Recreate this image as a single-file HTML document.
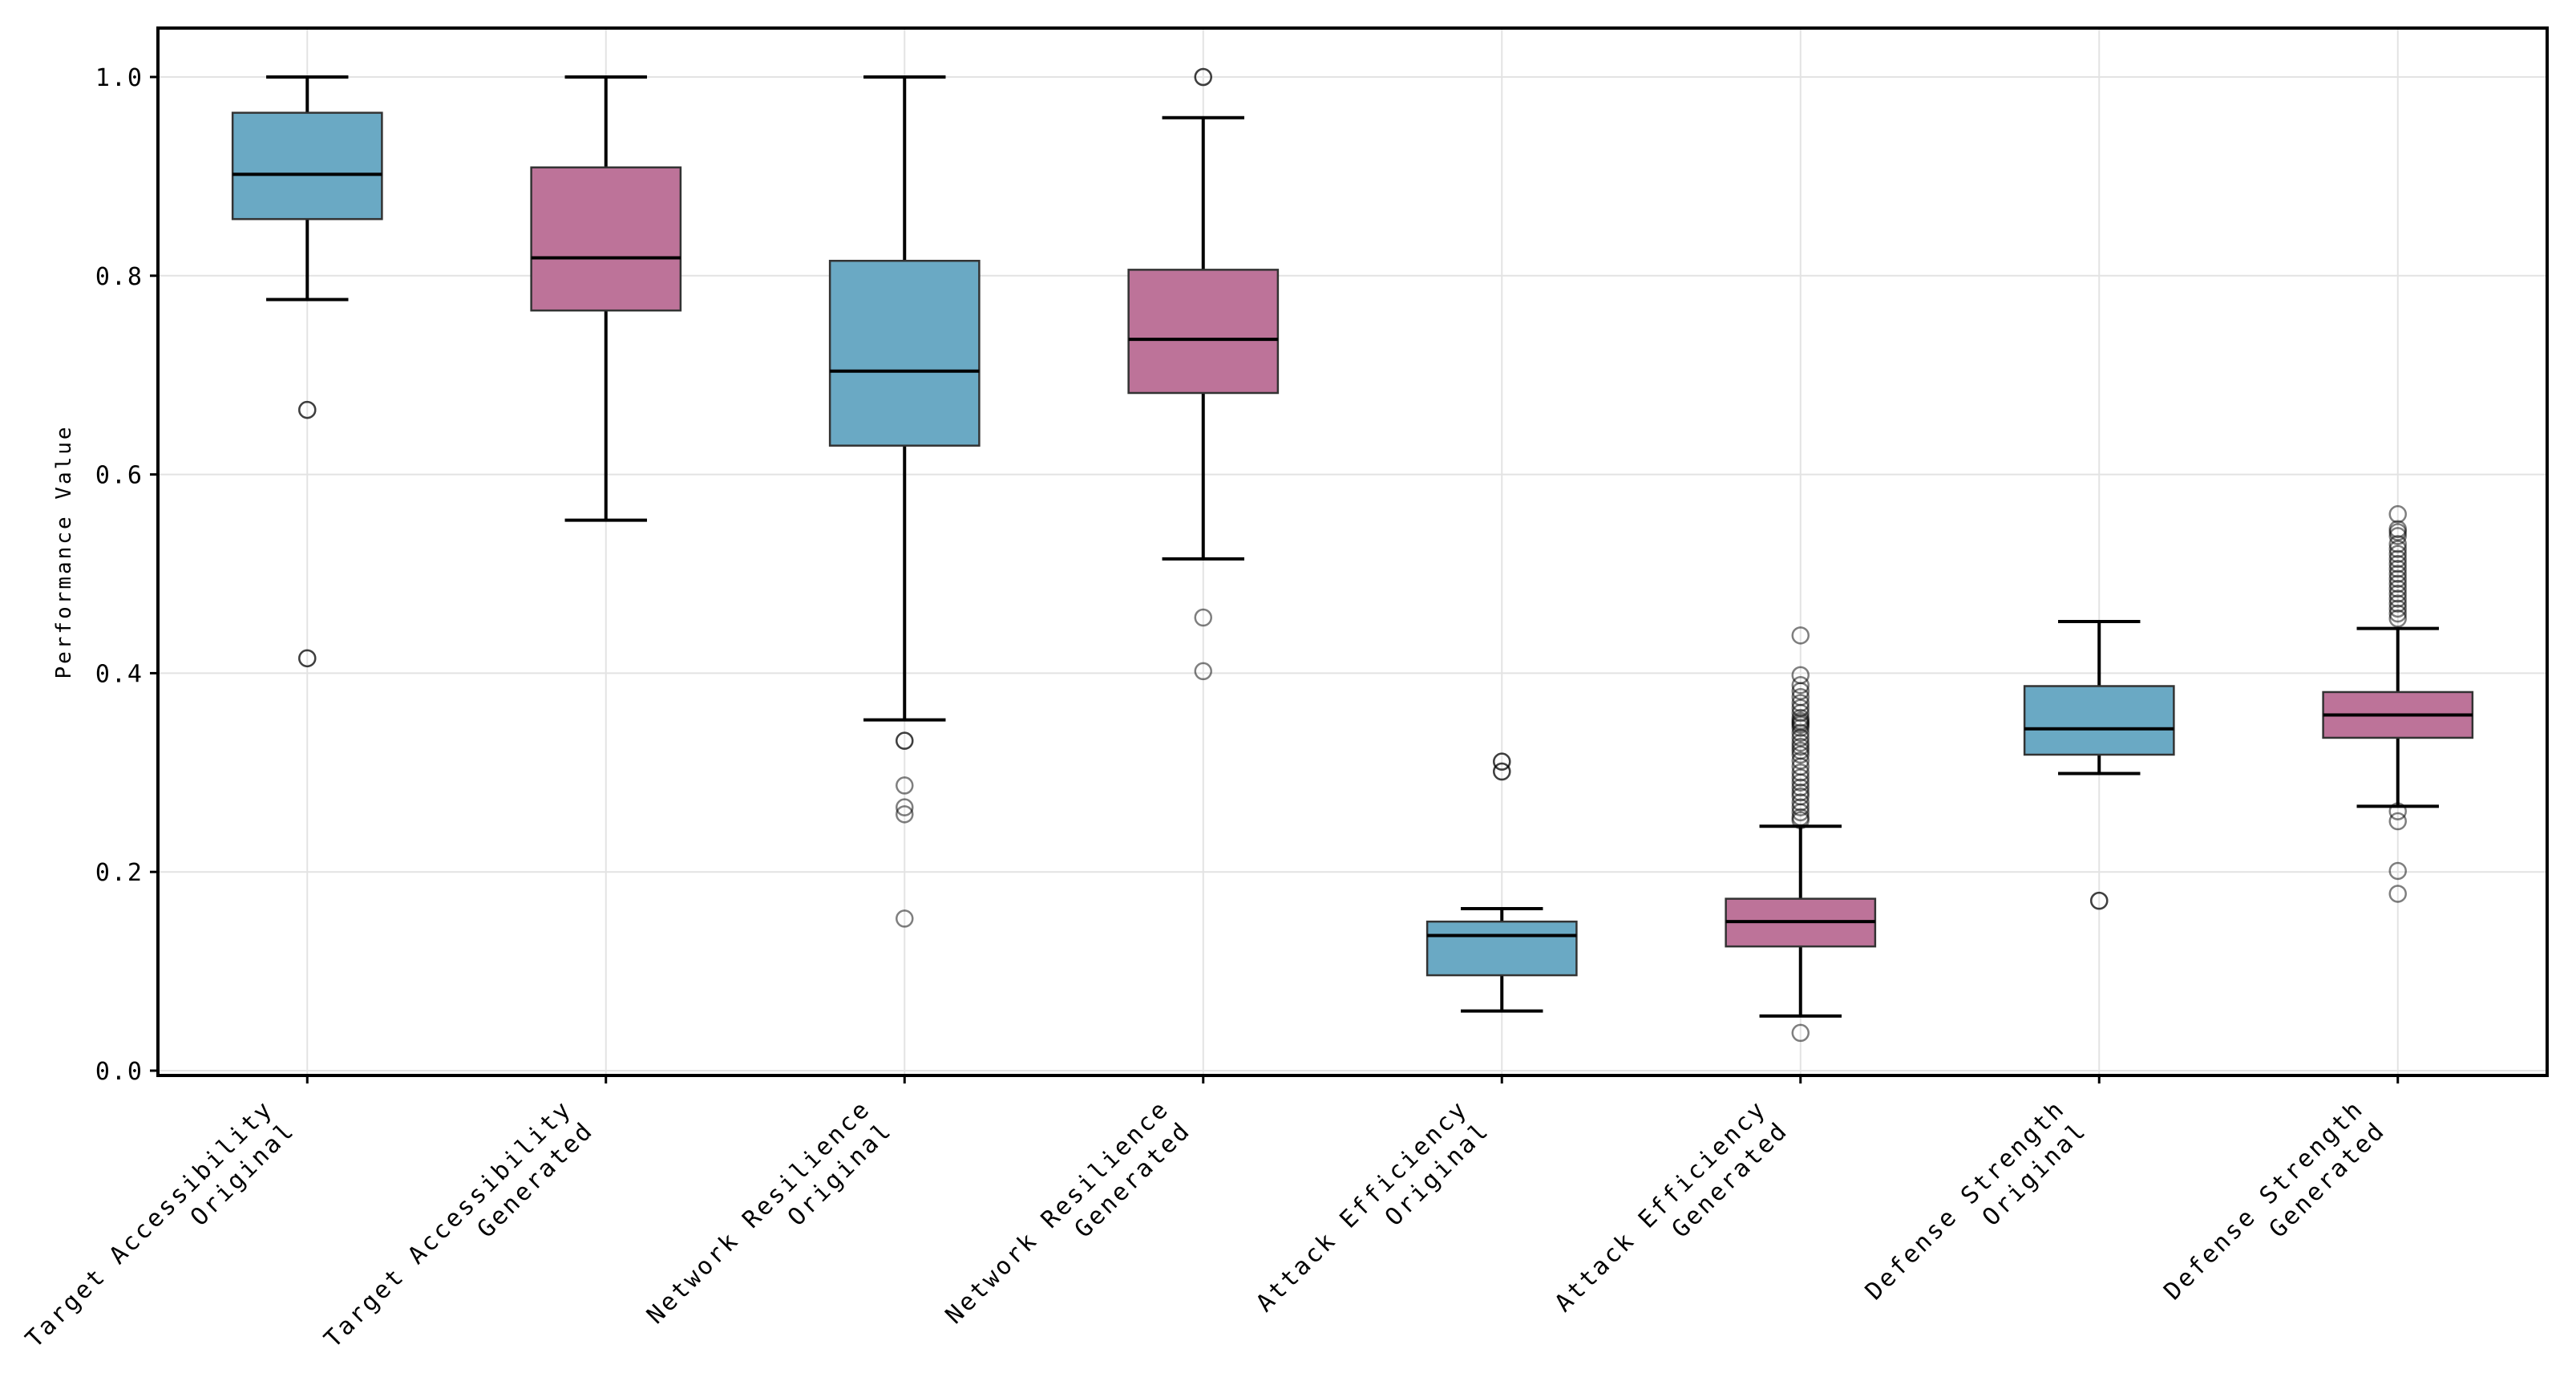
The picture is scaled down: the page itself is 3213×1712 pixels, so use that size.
<!DOCTYPE html>
<html><head><meta charset="utf-8">
<style>
html,body{margin:0;padding:0;background:#fff;}
svg{display:block;font-family:"DejaVu Sans Mono","Liberation Mono","Noto Sans CJK SC",monospace;}
</style></head>
<body>
<svg id="chart" width="3213" height="1712" viewBox="0 0 3213 1712" xmlns="http://www.w3.org/2000/svg">
<rect x="0" y="0" width="3213" height="1712" fill="#fff"/>
<g id="grid"></g>
<g id="boxes"></g>
<g id="axes"></g>
</svg>
<script>
const categories = ["Target Accessibility\nOriginal","Target Accessibility\nGenerated","Network Resilience\nOriginal","Network Resilience\nGenerated","Attack Efficiency\nOriginal","Attack Efficiency\nGenerated","Defense Strength\nOriginal","Defense Strength\nGenerated"];
const whiskerLow = [0.776,0.554,0.353,0.515,0.060,0.055,0.299,0.266];
const q1 = [0.857,0.765,0.629,0.682,0.096,0.125,0.318,0.335];
const medians = [0.902,0.818,0.704,0.736,0.136,0.150,0.344,0.358];
const q3 = [0.964,0.909,0.815,0.806,0.150,0.173,0.387,0.381];
const whiskerHigh = [1.0,1.0,1.0,0.959,0.163,0.246,0.452,0.445];
const fliers0 = [0.665,0.665,0.415,0.415];
const fliers1 = [];
const fliers2 = [0.332,0.332,0.287,0.265,0.258,0.153];
const fliers3 = [1.0,1.0,0.456,0.402];
const fliers4 = [0.311,0.311,0.301,0.301];
const fliers5 = [0.438,0.398,0.388,0.382,0.376,0.370,0.365,0.360,0.355,0.352,0.350,0.348,0.345,0.340,0.335,0.330,0.326,0.322,0.318,0.312,0.306,0.300,0.295,0.290,0.285,0.280,0.276,0.270,0.265,0.260,0.255,0.252,0.038];
const fliers6 = [0.171,0.171];
const fliers7 = [0.560,0.545,0.542,0.538,0.530,0.525,0.520,0.515,0.510,0.505,0.500,0.495,0.490,0.485,0.480,0.475,0.470,0.465,0.460,0.455,0.261,0.251,0.201,0.178];
const fliers = [fliers0,fliers1,fliers2,fliers3,fliers4,fliers5,fliers6,fliers7];
const yTicks = [0.0,0.2,0.4,0.6,0.8,1.0];
const yTickLabels = ["0.0","0.2","0.4","0.6","0.8","1.0"];

const L=197,R=3177,T=35,B=1341;
const y0px=1335, yPerUnit=1239;
function yScale(v){return y0px - v*yPerUnit;}
function xScale(i){return L + (R-L)*((i+1)-0.5)/categories.length;}
const boxHalf = (R-L)/categories.length*0.25;
const NS="http://www.w3.org/2000/svg";
function mk(tag,attrs,parent){const e=document.createElementNS(NS,tag);for(const k in attrs)e.setAttribute(k,attrs[k]);parent.appendChild(e);return e;}
const grid=document.getElementById('grid'),boxes=document.getElementById('boxes'),axes=document.getElementById('axes');

yTicks.forEach((t,i)=>{
  const y=yScale(t);
  const g=mk('line',{x1:L,x2:R,y1:y,y2:y,stroke:'#e3e3e3','stroke-width':2},grid);
  
  
  const tk=mk('line',{x1:L-10,x2:L,y1:y,y2:y,stroke:'#000','stroke-width':3},axes);
  
  
  const tx=mk('text',{x:L-18,y:y+11,'text-anchor':'end','font-size':30,'letter-spacing':2,fill:'#000'},axes);
  tx.textContent=yTickLabels[i];
  
  
});
categories.forEach((c,i)=>{
  const x=xScale(i);
  const g=mk('line',{x1:x,x2:x,y1:T,y2:B,stroke:'#e3e3e3','stroke-width':2},grid);
  
  
});

categories.forEach((c,i)=>{
  const x=xScale(i);
  const color = i%2===0 ? '#6aa9c4' : '#bd7399';
  const grp=mk('g',{},boxes);
  
  
  const w1=mk('line',{x1:x,x2:x,y1:yScale(q3[i]),y2:yScale(whiskerHigh[i]),stroke:'#000','stroke-width':4},grp);
  
  
  const w2=mk('line',{x1:x,x2:x,y1:yScale(q1[i]),y2:yScale(whiskerLow[i]),stroke:'#000','stroke-width':4},grp);
  
  
  const capHalf=boxHalf*0.55;
  const c1=mk('line',{x1:x-capHalf,x2:x+capHalf,y1:yScale(whiskerHigh[i]),y2:yScale(whiskerHigh[i]),stroke:'#000','stroke-width':4},grp);
  
  
  const c2=mk('line',{x1:x-capHalf,x2:x+capHalf,y1:yScale(whiskerLow[i]),y2:yScale(whiskerLow[i]),stroke:'#000','stroke-width':4},grp);
  
  
  const r=mk('rect',{x:x-boxHalf,y:yScale(q3[i]),width:boxHalf*2,height:yScale(q1[i])-yScale(q3[i]),fill:color,stroke:'#333','stroke-width':2.5},grp);
  
  
  const m=mk('line',{x1:x-boxHalf,x2:x+boxHalf,y1:yScale(medians[i]),y2:yScale(medians[i]),stroke:'#000','stroke-width':4},grp);
  
  
  fliers[i].forEach(v=>{
    const f=mk('circle',{cx:x,cy:yScale(v),r:10,fill:'none',stroke:'#000','stroke-opacity':0.5,'stroke-width':2.5},grp);
    
    
  });
  const tk=mk('line',{x1:x,x2:x,y1:B,y2:B+10,stroke:'#000','stroke-width':3},axes);
  
  
  const lines=c.split('\n');
  const t=mk('text',{transform:'translate('+(x-14)+','+1411+') rotate(-45)','text-anchor':'end','font-size':30,'letter-spacing':3,fill:'#000'},axes);
  
  
  const s1=mk('tspan',{x:0,y:-38},t); s1.textContent=lines[0];
  const s2=mk('tspan',{x:0,y:0},t); s2.textContent=lines[1];
});

const frame=mk('rect',{x:L,y:T,width:R-L,height:B-T,fill:'none',stroke:'#000','stroke-width':4},axes);


const yl=mk('text',{transform:'translate(88,688) rotate(-90)','text-anchor':'middle','font-size':26,'letter-spacing':3,fill:'#000'},axes);
yl.textContent='Performance Value';


</script>
</body></html>
